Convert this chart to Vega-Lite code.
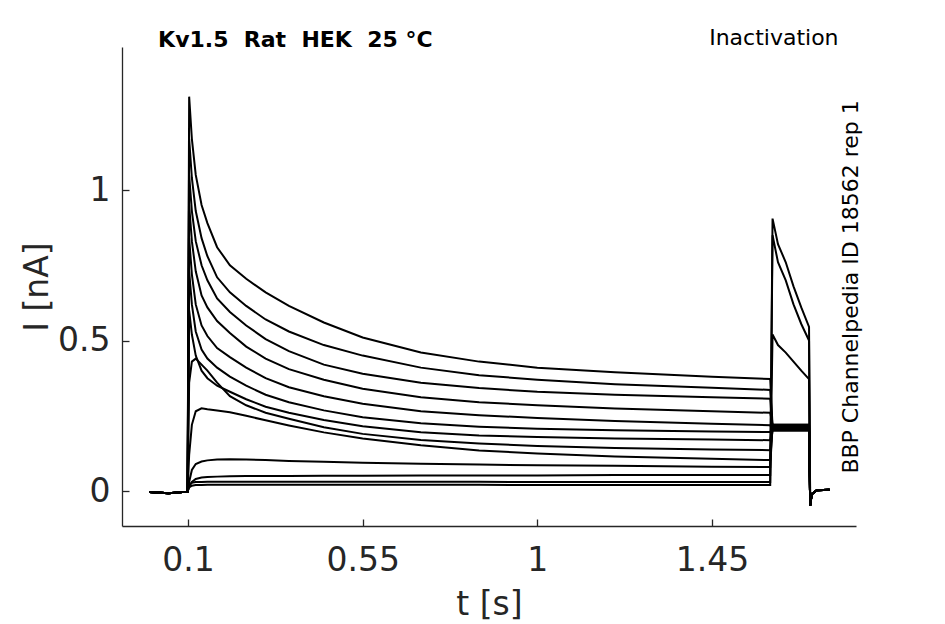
{
  "$schema": "https://vega.github.io/schema/vega-lite/v6.json",
  "width": 734,
  "height": 479,
  "autosize": {"type": "none"},
  "padding": {"left": 122, "top": 47, "right": 89, "bottom": 98},
  "background": "white",
  "config": {
    "view": {"stroke": null},
    "font": "DejaVu Sans",
    "axis": {
      "grid": false,
      "domainColor": "#262626",
      "domainWidth": 1.3,
      "tickColor": "#262626",
      "tickWidth": 1.3,
      "tickSize": -7,
      "labelColor": "#262626",
      "titleColor": "#262626",
      "labelFont": "DejaVu Sans",
      "titleFont": "DejaVu Sans",
      "labelFontSize": 33,
      "titleFontSize": 33,
      "titleFontWeight": "normal"
    },
    "axisX": {"labelPadding": 25, "titlePadding": 11},
    "axisY": {"labelPadding": 19, "titlePadding": 3}
  },
  "data": {
    "values": [
      {"k": 1, "t": 0, "i": -0.003}, {"k": 1, "t": 0.05, "i": -0.007}, {"k": 1, "t": 0.099, "i": -0.002},
      {"k": 1, "t": 0.103, "i": 1.31}, {"k": 1, "t": 0.11, "i": 1.17}, {"k": 1, "t": 0.12, "i": 1.05}, {"k": 1, "t": 0.135, "i": 0.95},
      {"k": 1, "t": 0.15, "i": 0.89}, {"k": 1, "t": 0.175, "i": 0.81}, {"k": 1, "t": 0.208, "i": 0.75}, {"k": 1, "t": 0.25, "i": 0.705},
      {"k": 1, "t": 0.3, "i": 0.66}, {"k": 1, "t": 0.36, "i": 0.615}, {"k": 1, "t": 0.45, "i": 0.56}, {"k": 1, "t": 0.55, "i": 0.51},
      {"k": 1, "t": 0.7, "i": 0.46}, {"k": 1, "t": 0.85, "i": 0.43}, {"k": 1, "t": 1.0, "i": 0.41}, {"k": 1, "t": 1.2, "i": 0.395},
      {"k": 1, "t": 1.45, "i": 0.38}, {"k": 1, "t": 1.6, "i": 0.372},
      {"k": 1, "t": 1.606, "i": 0.215}, {"k": 1, "t": 1.7, "i": 0.215},
      {"k": 1, "t": 1.703, "i": -0.048}, {"k": 1, "t": 1.707, "i": -0.01}, {"k": 1, "t": 1.72, "i": 0.003}, {"k": 1, "t": 1.753, "i": 0.004},

      {"k": 2, "t": 0, "i": -0.003}, {"k": 2, "t": 0.05, "i": -0.007}, {"k": 2, "t": 0.099, "i": -0.002},
      {"k": 2, "t": 0.103, "i": 1.17}, {"k": 2, "t": 0.11, "i": 1.04}, {"k": 2, "t": 0.12, "i": 0.93}, {"k": 2, "t": 0.135, "i": 0.84},
      {"k": 2, "t": 0.15, "i": 0.78}, {"k": 2, "t": 0.175, "i": 0.71}, {"k": 2, "t": 0.208, "i": 0.66}, {"k": 2, "t": 0.25, "i": 0.615},
      {"k": 2, "t": 0.3, "i": 0.57}, {"k": 2, "t": 0.36, "i": 0.53}, {"k": 2, "t": 0.45, "i": 0.485}, {"k": 2, "t": 0.55, "i": 0.45},
      {"k": 2, "t": 0.7, "i": 0.41}, {"k": 2, "t": 0.85, "i": 0.385}, {"k": 2, "t": 1.0, "i": 0.37}, {"k": 2, "t": 1.2, "i": 0.355},
      {"k": 2, "t": 1.45, "i": 0.343}, {"k": 2, "t": 1.6, "i": 0.336},
      {"k": 2, "t": 1.606, "i": 0.21}, {"k": 2, "t": 1.7, "i": 0.21},
      {"k": 2, "t": 1.703, "i": -0.048}, {"k": 2, "t": 1.707, "i": -0.01}, {"k": 2, "t": 1.72, "i": 0.003}, {"k": 2, "t": 1.753, "i": 0.004},

      {"k": 3, "t": 0, "i": -0.003}, {"k": 3, "t": 0.05, "i": -0.007}, {"k": 3, "t": 0.099, "i": -0.002},
      {"k": 3, "t": 0.103, "i": 1.05}, {"k": 3, "t": 0.11, "i": 0.93}, {"k": 3, "t": 0.12, "i": 0.83}, {"k": 3, "t": 0.135, "i": 0.75},
      {"k": 3, "t": 0.15, "i": 0.70}, {"k": 3, "t": 0.175, "i": 0.64}, {"k": 3, "t": 0.208, "i": 0.595}, {"k": 3, "t": 0.25, "i": 0.55},
      {"k": 3, "t": 0.3, "i": 0.505}, {"k": 3, "t": 0.36, "i": 0.465}, {"k": 3, "t": 0.45, "i": 0.42}, {"k": 3, "t": 0.55, "i": 0.39},
      {"k": 3, "t": 0.7, "i": 0.36}, {"k": 3, "t": 0.85, "i": 0.342}, {"k": 3, "t": 1.0, "i": 0.33}, {"k": 3, "t": 1.2, "i": 0.32},
      {"k": 3, "t": 1.45, "i": 0.312}, {"k": 3, "t": 1.6, "i": 0.307},
      {"k": 3, "t": 1.606, "i": 0.205}, {"k": 3, "t": 1.7, "i": 0.205},
      {"k": 3, "t": 1.703, "i": -0.048}, {"k": 3, "t": 1.707, "i": -0.01}, {"k": 3, "t": 1.72, "i": 0.003}, {"k": 3, "t": 1.753, "i": 0.004},

      {"k": 4, "t": 0, "i": -0.003}, {"k": 4, "t": 0.05, "i": -0.007}, {"k": 4, "t": 0.099, "i": -0.002},
      {"k": 4, "t": 0.103, "i": 0.95}, {"k": 4, "t": 0.11, "i": 0.83}, {"k": 4, "t": 0.12, "i": 0.73}, {"k": 4, "t": 0.135, "i": 0.65},
      {"k": 4, "t": 0.15, "i": 0.61}, {"k": 4, "t": 0.175, "i": 0.565}, {"k": 4, "t": 0.208, "i": 0.525}, {"k": 4, "t": 0.25, "i": 0.48},
      {"k": 4, "t": 0.3, "i": 0.44}, {"k": 4, "t": 0.36, "i": 0.405}, {"k": 4, "t": 0.45, "i": 0.37}, {"k": 4, "t": 0.55, "i": 0.34},
      {"k": 4, "t": 0.7, "i": 0.312}, {"k": 4, "t": 0.85, "i": 0.295}, {"k": 4, "t": 1.0, "i": 0.285}, {"k": 4, "t": 1.2, "i": 0.274},
      {"k": 4, "t": 1.45, "i": 0.265}, {"k": 4, "t": 1.6, "i": 0.26},
      {"k": 4, "t": 1.606, "i": 0.22}, {"k": 4, "t": 1.7, "i": 0.22},
      {"k": 4, "t": 1.703, "i": -0.048}, {"k": 4, "t": 1.707, "i": -0.01}, {"k": 4, "t": 1.72, "i": 0.003}, {"k": 4, "t": 1.753, "i": 0.004},

      {"k": 5, "t": 0, "i": -0.003}, {"k": 5, "t": 0.05, "i": -0.007}, {"k": 5, "t": 0.099, "i": -0.002},
      {"k": 5, "t": 0.103, "i": 0.84}, {"k": 5, "t": 0.11, "i": 0.72}, {"k": 5, "t": 0.12, "i": 0.62}, {"k": 5, "t": 0.135, "i": 0.55},
      {"k": 5, "t": 0.15, "i": 0.515}, {"k": 5, "t": 0.175, "i": 0.475}, {"k": 5, "t": 0.208, "i": 0.445}, {"k": 5, "t": 0.25, "i": 0.41},
      {"k": 5, "t": 0.3, "i": 0.375}, {"k": 5, "t": 0.36, "i": 0.345}, {"k": 5, "t": 0.45, "i": 0.315}, {"k": 5, "t": 0.55, "i": 0.29},
      {"k": 5, "t": 0.7, "i": 0.265}, {"k": 5, "t": 0.85, "i": 0.252}, {"k": 5, "t": 1.0, "i": 0.243}, {"k": 5, "t": 1.2, "i": 0.233},
      {"k": 5, "t": 1.45, "i": 0.224}, {"k": 5, "t": 1.6, "i": 0.219},
      {"k": 5, "t": 1.606, "i": 0.2}, {"k": 5, "t": 1.7, "i": 0.2},
      {"k": 5, "t": 1.703, "i": -0.048}, {"k": 5, "t": 1.707, "i": -0.01}, {"k": 5, "t": 1.72, "i": 0.003}, {"k": 5, "t": 1.753, "i": 0.004},

      {"k": 6, "t": 0, "i": -0.003}, {"k": 6, "t": 0.05, "i": -0.007}, {"k": 6, "t": 0.099, "i": -0.002},
      {"k": 6, "t": 0.103, "i": 0.73}, {"k": 6, "t": 0.11, "i": 0.62}, {"k": 6, "t": 0.12, "i": 0.53}, {"k": 6, "t": 0.135, "i": 0.47},
      {"k": 6, "t": 0.15, "i": 0.44}, {"k": 6, "t": 0.175, "i": 0.41}, {"k": 6, "t": 0.208, "i": 0.38}, {"k": 6, "t": 0.25, "i": 0.35},
      {"k": 6, "t": 0.3, "i": 0.32}, {"k": 6, "t": 0.36, "i": 0.295}, {"k": 6, "t": 0.45, "i": 0.268}, {"k": 6, "t": 0.55, "i": 0.245},
      {"k": 6, "t": 0.7, "i": 0.225}, {"k": 6, "t": 0.85, "i": 0.214}, {"k": 6, "t": 1.0, "i": 0.207}, {"k": 6, "t": 1.2, "i": 0.202},
      {"k": 6, "t": 1.45, "i": 0.198}, {"k": 6, "t": 1.6, "i": 0.196},
      {"k": 6, "t": 1.606, "i": 0.21}, {"k": 6, "t": 1.7, "i": 0.21},
      {"k": 6, "t": 1.703, "i": -0.048}, {"k": 6, "t": 1.707, "i": -0.01}, {"k": 6, "t": 1.72, "i": 0.003}, {"k": 6, "t": 1.753, "i": 0.004},

      {"k": 7, "t": 0, "i": -0.003}, {"k": 7, "t": 0.05, "i": -0.007}, {"k": 7, "t": 0.099, "i": -0.002},
      {"k": 7, "t": 0.103, "i": 0.60}, {"k": 7, "t": 0.11, "i": 0.52}, {"k": 7, "t": 0.12, "i": 0.45}, {"k": 7, "t": 0.135, "i": 0.40},
      {"k": 7, "t": 0.15, "i": 0.375}, {"k": 7, "t": 0.175, "i": 0.35}, {"k": 7, "t": 0.208, "i": 0.33}, {"k": 7, "t": 0.25, "i": 0.305},
      {"k": 7, "t": 0.3, "i": 0.28}, {"k": 7, "t": 0.36, "i": 0.26}, {"k": 7, "t": 0.45, "i": 0.236}, {"k": 7, "t": 0.55, "i": 0.215},
      {"k": 7, "t": 0.7, "i": 0.195}, {"k": 7, "t": 0.85, "i": 0.185}, {"k": 7, "t": 1.0, "i": 0.18}, {"k": 7, "t": 1.2, "i": 0.175},
      {"k": 7, "t": 1.45, "i": 0.171}, {"k": 7, "t": 1.6, "i": 0.169},
      {"k": 7, "t": 1.606, "i": 0.215}, {"k": 7, "t": 1.7, "i": 0.215},
      {"k": 7, "t": 1.703, "i": -0.048}, {"k": 7, "t": 1.707, "i": -0.01}, {"k": 7, "t": 1.72, "i": 0.003}, {"k": 7, "t": 1.753, "i": 0.004},

      {"k": 8, "t": 0, "i": -0.003}, {"k": 8, "t": 0.05, "i": -0.007}, {"k": 8, "t": 0.099, "i": -0.002},
      {"k": 8, "t": 0.103, "i": 0.36}, {"k": 8, "t": 0.11, "i": 0.43}, {"k": 8, "t": 0.12, "i": 0.44}, {"k": 8, "t": 0.135, "i": 0.42},
      {"k": 8, "t": 0.15, "i": 0.40}, {"k": 8, "t": 0.175, "i": 0.36}, {"k": 8, "t": 0.208, "i": 0.315}, {"k": 8, "t": 0.25, "i": 0.285},
      {"k": 8, "t": 0.3, "i": 0.26}, {"k": 8, "t": 0.36, "i": 0.24}, {"k": 8, "t": 0.45, "i": 0.212}, {"k": 8, "t": 0.55, "i": 0.19},
      {"k": 8, "t": 0.7, "i": 0.17}, {"k": 8, "t": 0.85, "i": 0.158}, {"k": 8, "t": 1.0, "i": 0.15}, {"k": 8, "t": 1.2, "i": 0.143},
      {"k": 8, "t": 1.45, "i": 0.138}, {"k": 8, "t": 1.6, "i": 0.136},
      {"k": 8, "t": 1.606, "i": 0.205}, {"k": 8, "t": 1.7, "i": 0.205},
      {"k": 8, "t": 1.703, "i": -0.048}, {"k": 8, "t": 1.707, "i": -0.01}, {"k": 8, "t": 1.72, "i": 0.003}, {"k": 8, "t": 1.753, "i": 0.004},

      {"k": 9, "t": 0, "i": -0.003}, {"k": 9, "t": 0.05, "i": -0.007}, {"k": 9, "t": 0.099, "i": -0.002},
      {"k": 9, "t": 0.103, "i": 0.12}, {"k": 9, "t": 0.11, "i": 0.22}, {"k": 9, "t": 0.12, "i": 0.265}, {"k": 9, "t": 0.135, "i": 0.275},
      {"k": 9, "t": 0.15, "i": 0.272}, {"k": 9, "t": 0.175, "i": 0.268}, {"k": 9, "t": 0.208, "i": 0.262}, {"k": 9, "t": 0.25, "i": 0.25},
      {"k": 9, "t": 0.3, "i": 0.235}, {"k": 9, "t": 0.36, "i": 0.218}, {"k": 9, "t": 0.45, "i": 0.195}, {"k": 9, "t": 0.55, "i": 0.175},
      {"k": 9, "t": 0.7, "i": 0.152}, {"k": 9, "t": 0.85, "i": 0.135}, {"k": 9, "t": 1.0, "i": 0.125}, {"k": 9, "t": 1.2, "i": 0.115},
      {"k": 9, "t": 1.45, "i": 0.107}, {"k": 9, "t": 1.6, "i": 0.103},
      {"k": 9, "t": 1.606, "i": 0.21}, {"k": 9, "t": 1.7, "i": 0.21},
      {"k": 9, "t": 1.703, "i": -0.048}, {"k": 9, "t": 1.707, "i": -0.01}, {"k": 9, "t": 1.72, "i": 0.003}, {"k": 9, "t": 1.753, "i": 0.004},

      {"k": 10, "t": 0, "i": -0.003}, {"k": 10, "t": 0.05, "i": -0.007}, {"k": 10, "t": 0.099, "i": -0.002},
      {"k": 10, "t": 0.103, "i": 0.03}, {"k": 10, "t": 0.11, "i": 0.07}, {"k": 10, "t": 0.12, "i": 0.09}, {"k": 10, "t": 0.135, "i": 0.098},
      {"k": 10, "t": 0.15, "i": 0.102}, {"k": 10, "t": 0.175, "i": 0.105}, {"k": 10, "t": 0.208, "i": 0.106}, {"k": 10, "t": 0.25, "i": 0.105},
      {"k": 10, "t": 0.3, "i": 0.103}, {"k": 10, "t": 0.36, "i": 0.1}, {"k": 10, "t": 0.45, "i": 0.097}, {"k": 10, "t": 0.55, "i": 0.094},
      {"k": 10, "t": 0.7, "i": 0.091}, {"k": 10, "t": 0.85, "i": 0.088}, {"k": 10, "t": 1.0, "i": 0.086}, {"k": 10, "t": 1.2, "i": 0.084},
      {"k": 10, "t": 1.45, "i": 0.081}, {"k": 10, "t": 1.6, "i": 0.08},
      {"k": 10, "t": 1.606, "i": 0.22}, {"k": 10, "t": 1.7, "i": 0.22},
      {"k": 10, "t": 1.703, "i": -0.048}, {"k": 10, "t": 1.707, "i": -0.01}, {"k": 10, "t": 1.72, "i": 0.003}, {"k": 10, "t": 1.753, "i": 0.004},

      {"k": 11, "t": 0, "i": -0.003}, {"k": 11, "t": 0.05, "i": -0.007}, {"k": 11, "t": 0.099, "i": -0.002},
      {"k": 11, "t": 0.103, "i": 0.015}, {"k": 11, "t": 0.11, "i": 0.03}, {"k": 11, "t": 0.12, "i": 0.04}, {"k": 11, "t": 0.135, "i": 0.045},
      {"k": 11, "t": 0.15, "i": 0.047}, {"k": 11, "t": 0.175, "i": 0.048}, {"k": 11, "t": 0.208, "i": 0.049}, {"k": 11, "t": 0.25, "i": 0.05},
      {"k": 11, "t": 0.3, "i": 0.05}, {"k": 11, "t": 0.36, "i": 0.05}, {"k": 11, "t": 0.45, "i": 0.051}, {"k": 11, "t": 0.55, "i": 0.051},
      {"k": 11, "t": 0.7, "i": 0.052}, {"k": 11, "t": 0.85, "i": 0.052}, {"k": 11, "t": 1.0, "i": 0.052}, {"k": 11, "t": 1.2, "i": 0.053},
      {"k": 11, "t": 1.45, "i": 0.053}, {"k": 11, "t": 1.6, "i": 0.053},
      {"k": 11, "t": 1.606, "i": 0.52}, {"k": 11, "t": 1.62, "i": 0.485}, {"k": 11, "t": 1.64, "i": 0.46}, {"k": 11, "t": 1.66, "i": 0.43},
      {"k": 11, "t": 1.68, "i": 0.40}, {"k": 11, "t": 1.7, "i": 0.372},
      {"k": 11, "t": 1.703, "i": -0.048}, {"k": 11, "t": 1.707, "i": -0.01}, {"k": 11, "t": 1.72, "i": 0.003}, {"k": 11, "t": 1.753, "i": 0.004},

      {"k": 12, "t": 0, "i": -0.003}, {"k": 12, "t": 0.05, "i": -0.007}, {"k": 12, "t": 0.099, "i": -0.002},
      {"k": 12, "t": 0.103, "i": 0.02}, {"k": 12, "t": 0.11, "i": 0.028}, {"k": 12, "t": 0.12, "i": 0.03}, {"k": 12, "t": 0.135, "i": 0.03},
      {"k": 12, "t": 0.15, "i": 0.031}, {"k": 12, "t": 0.175, "i": 0.031}, {"k": 12, "t": 0.208, "i": 0.031}, {"k": 12, "t": 0.25, "i": 0.031},
      {"k": 12, "t": 0.3, "i": 0.031}, {"k": 12, "t": 0.36, "i": 0.031}, {"k": 12, "t": 0.45, "i": 0.031}, {"k": 12, "t": 0.55, "i": 0.031},
      {"k": 12, "t": 0.7, "i": 0.031}, {"k": 12, "t": 0.85, "i": 0.031}, {"k": 12, "t": 1.0, "i": 0.03}, {"k": 12, "t": 1.2, "i": 0.03},
      {"k": 12, "t": 1.45, "i": 0.03}, {"k": 12, "t": 1.6, "i": 0.03},
      {"k": 12, "t": 1.606, "i": 0.85}, {"k": 12, "t": 1.62, "i": 0.76}, {"k": 12, "t": 1.64, "i": 0.70}, {"k": 12, "t": 1.66, "i": 0.62},
      {"k": 12, "t": 1.68, "i": 0.555}, {"k": 12, "t": 1.7, "i": 0.50},
      {"k": 12, "t": 1.703, "i": -0.048}, {"k": 12, "t": 1.707, "i": -0.01}, {"k": 12, "t": 1.72, "i": 0.003}, {"k": 12, "t": 1.753, "i": 0.004},

      {"k": 13, "t": 0, "i": -0.003}, {"k": 13, "t": 0.05, "i": -0.007}, {"k": 13, "t": 0.099, "i": -0.002},
      {"k": 13, "t": 0.103, "i": 0.012}, {"k": 13, "t": 0.11, "i": 0.018}, {"k": 13, "t": 0.12, "i": 0.02}, {"k": 13, "t": 0.135, "i": 0.02},
      {"k": 13, "t": 0.15, "i": 0.021}, {"k": 13, "t": 0.175, "i": 0.021}, {"k": 13, "t": 0.208, "i": 0.021}, {"k": 13, "t": 0.25, "i": 0.021},
      {"k": 13, "t": 0.3, "i": 0.021}, {"k": 13, "t": 0.36, "i": 0.021}, {"k": 13, "t": 0.45, "i": 0.021}, {"k": 13, "t": 0.55, "i": 0.021},
      {"k": 13, "t": 0.7, "i": 0.021}, {"k": 13, "t": 0.85, "i": 0.021}, {"k": 13, "t": 1.0, "i": 0.02}, {"k": 13, "t": 1.2, "i": 0.02},
      {"k": 13, "t": 1.45, "i": 0.02}, {"k": 13, "t": 1.6, "i": 0.02},
      {"k": 13, "t": 1.606, "i": 0.905}, {"k": 13, "t": 1.62, "i": 0.82}, {"k": 13, "t": 1.64, "i": 0.76}, {"k": 13, "t": 1.66, "i": 0.68},
      {"k": 13, "t": 1.68, "i": 0.61}, {"k": 13, "t": 1.7, "i": 0.545},
      {"k": 13, "t": 1.703, "i": -0.048}, {"k": 13, "t": 1.707, "i": -0.01}, {"k": 13, "t": 1.72, "i": 0.003}, {"k": 13, "t": 1.753, "i": 0.004}
    ]
  },
  "layer": [
    {
      "mark": {"type": "line", "color": "black", "strokeWidth": 2},
      "encoding": {
        "x": {
          "field": "t",
          "type": "quantitative",
          "scale": {"domain": [-0.07, 1.821], "nice": false, "zero": false},
          "axis": {"values": [0.1, 0.55, 1, 1.45], "format": ".3~g", "title": "t [s]"}
        },
        "y": {
          "field": "i",
          "type": "quantitative",
          "scale": {"domain": [-0.116, 1.475], "nice": false, "zero": false},
          "axis": {"values": [0, 0.5, 1], "format": ".3~g", "title": "I [nA]"}
        },
        "detail": {"field": "k", "type": "nominal"}
      }
    },
    {
      "data": {"values": [{"label": "Kv1.5\u00a0\u00a0Rat\u00a0\u00a0HEK\u00a0\u00a025\u00a0°C"}]},
      "mark": {"type": "text", "align": "left", "baseline": "middle", "font": "DejaVu Sans", "fontSize": 22, "fontWeight": "bold", "color": "black"},
      "encoding": {
        "x": {"datum": 0.023, "type": "quantitative"},
        "y": {"datum": 1.498, "type": "quantitative"},
        "text": {"field": "label"}
      }
    },
    {
      "data": {"values": [{"label": "Inactivation"}]},
      "mark": {"type": "text", "align": "right", "baseline": "middle", "font": "DejaVu Sans", "fontSize": 22, "color": "black"},
      "encoding": {
        "x": {"datum": 1.776, "type": "quantitative"},
        "y": {"datum": 1.505, "type": "quantitative"},
        "text": {"field": "label"}
      }
    },
    {
      "data": {"values": [{"label": "BBP Channelpedia ID 18562 rep 1"}]},
      "mark": {"type": "text", "align": "center", "baseline": "middle", "angle": 270, "font": "DejaVu Sans", "fontSize": 22, "color": "black"},
      "encoding": {
        "x": {"datum": 1.807, "type": "quantitative"},
        "y": {"datum": 0.678, "type": "quantitative"},
        "text": {"field": "label"}
      }
    }
  ]
}
